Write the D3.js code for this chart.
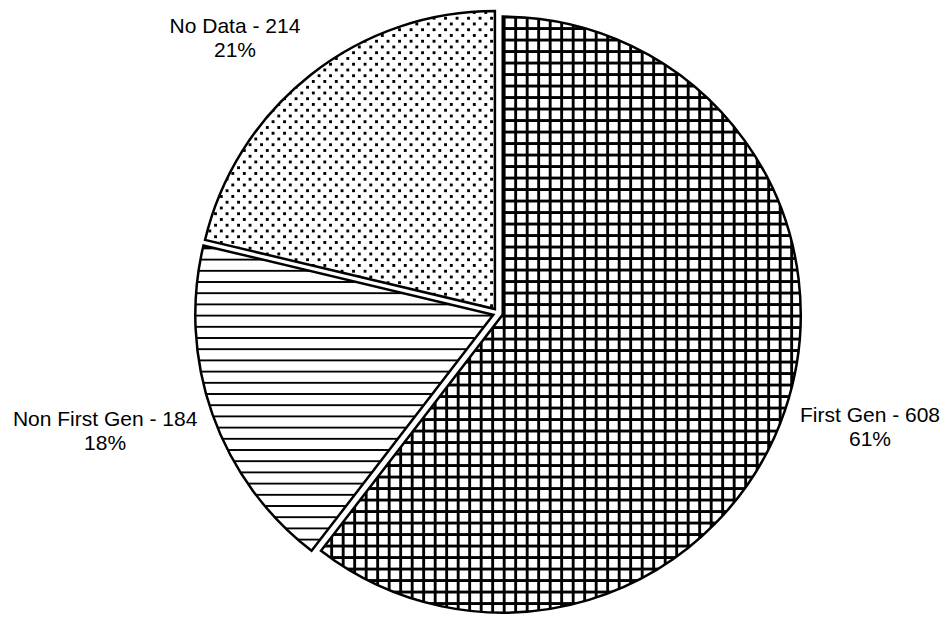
<!DOCTYPE html>
<html>
<head>
<meta charset="utf-8">
<script src="https://cdn.jsdelivr.net/npm/d3@7"></script>
<style>
    body { margin: 0; background: #fff; }
    svg { display: block; }
    pattern rect { shape-rendering: crispEdges; }
</style>
</head>
<body>
<svg id="chart" width="947" height="617"></svg>
<script>
// Chart data
let categories = ["First Gen", "Non First Gen", "No Data"];
let counts = [608, 184, 214];
let percentLabels = ["61%", "18%", "21%"];
let patternIds = ["grid", "hstripes", "dots"];

let svg = d3.select("#chart");

let layout = {
    cx: 498,
    cy: 313,
    radius: 298,
    explode: 5,
    labelGap: 16,
    lineHeight: 24,
    fontSize: 21
};

// Fill patterns (black on white, like the old Excel hatch fills)
let defs = svg.append("defs");

let grid = defs.append("pattern")
    .attr("id", "grid")
    .attr("patternUnits", "userSpaceOnUse")
    .attr("width", 11.5)
    .attr("height", 11.5);
grid.append("rect").attr("width", 11.5).attr("height", 11.5).attr("fill", "#fff");
grid.append("rect").attr("x", 0).attr("y", 0).attr("width", 3.2).attr("height", 11.5).attr("fill", "#000");
grid.append("rect").attr("x", 0).attr("y", 0).attr("width", 11.5).attr("height", 3.2).attr("fill", "#000");

let stripes = defs.append("pattern")
    .attr("id", "hstripes")
    .attr("patternUnits", "userSpaceOnUse")
    .attr("width", 11.2)
    .attr("height", 11.2);
stripes.append("rect").attr("width", 11.2).attr("height", 11.2).attr("fill", "#fff");
stripes.append("rect").attr("x", 0).attr("y", 0).attr("width", 11.2).attr("height", 2.2).attr("fill", "#000");

let dots = defs.append("pattern")
    .attr("id", "dots")
    .attr("patternUnits", "userSpaceOnUse")
    .attr("width", 11.5)
    .attr("height", 11.5);
dots.append("rect").attr("width", 11.5).attr("height", 11.5).attr("fill", "#fff");
dots.append("rect").attr("x", 1).attr("y", 1).attr("width", 3).attr("height", 3).attr("fill", "#000");
dots.append("rect").attr("x", 6.75).attr("y", 6.75).attr("width", 3).attr("height", 3).attr("fill", "#000");

let pie = d3.pie()
    .sort(null)
    .value(d => d.count);

let arcs = pie(categories.map((c, i) => ({
    category: c,
    count: counts[i],
    percent: percentLabels[i],
    pattern: patternIds[i]
})));

let arc = d3.arc()
    .innerRadius(0)
    .outerRadius(layout.radius);

// Unit vector pointing out through the middle of a slice
let midVector = d => {
    let a = (d.startAngle + d.endAngle) / 2;
    return [Math.sin(a), -Math.cos(a)];
};

let group = svg.append("g")
    .attr("transform", `translate(${layout.cx}, ${layout.cy})`);

let slices = group.selectAll(".slice")
    .data(arcs)
    .enter()
    .append("g")
    .attr("class", "slice")
    .attr("transform", d => {
        let u = midVector(d);
        return `translate(${u[0] * layout.explode}, ${u[1] * layout.explode})`;
    });

slices.append("path")
    .attr("d", arc)
    .attr("fill", d => `url(#${d.data.pattern})`)
    .attr("stroke", "#000")
    .attr("stroke-width", 2.5)
    .attr("stroke-linejoin", "miter");

// Labels sit just outside each slice, pushed away from the pie by their own size
let labels = slices.append("text")
    .style("font-family", "'Liberation Sans', Arial, sans-serif")
    .style("font-size", layout.fontSize + "px")
    .attr("fill", "#000")
    .attr("text-anchor", "middle");

labels.append("tspan")
    .attr("class", "line1")
    .attr("x", 0)
    .attr("dominant-baseline", "central")
    .text(d => `${d.data.category} - ${d.data.count}`);

labels.append("tspan")
    .attr("class", "line2")
    .attr("x", 0)
    .attr("dominant-baseline", "central")
    .text(d => d.data.percent);

labels.each(function (d) {
    let text = d3.select(this);
    let u = midVector(d);
    let r = layout.radius + layout.labelGap;
    let px = u[0] * r;
    let py = u[1] * r;
    let w = Math.max(
        text.select(".line1").node().getComputedTextLength(),
        text.select(".line2").node().getComputedTextLength());
    let x = px + Math.sign(u[0]) * w / 2;
    let y = py + u[1] * 32;
    text.select(".line1").attr("x", x).attr("y", y - layout.lineHeight / 2);
    text.select(".line2").attr("x", x).attr("y", y + layout.lineHeight / 2);
});
</script>
</body>
</html>
